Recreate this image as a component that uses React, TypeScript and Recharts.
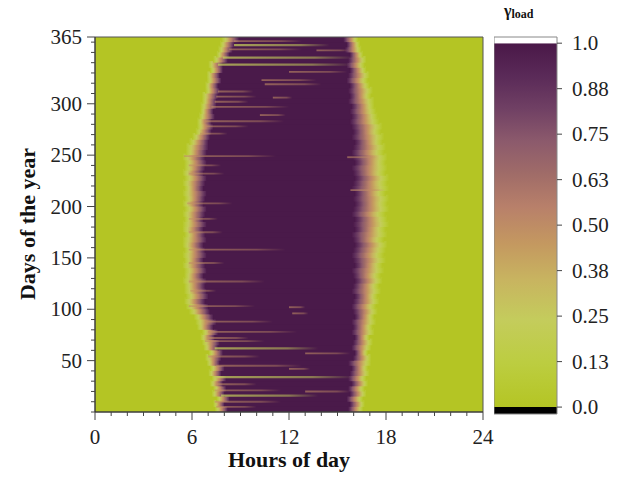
import React from 'react';
import { ComposedChart, XAxis, YAxis, ReferenceArea } from 'recharts';

// ---------- data ----------
const BLOCK_DAYS = 5; // each row of the heat map covers 5 days

// hour at which the morning rise begins (value leaves 0)
const riseStart = [
  7.4, 7.3, 7.5, 7.2, 7.3, 7.1, 7.2, 7.0, 7.1, 6.9,
  6.8, 7.0, 6.7, 6.6, 6.5, 6.6, 6.3, 6.2, 6.1, 5.8,
  5.6, 5.5, 5.6, 5.5, 5.5, 5.4, 5.5, 5.5, 5.4, 5.5,
  5.4, 5.5, 5.4, 5.4, 5.5, 5.4, 5.4, 5.5, 5.4, 5.5,
  5.4, 5.5, 5.4, 5.5, 5.4, 5.5, 5.4, 5.5, 5.5, 5.4,
  5.6, 5.6, 5.8, 6.0, 6.2, 6.3, 6.3, 6.4, 6.5, 6.5,
  6.6, 6.6, 6.8, 6.8, 6.9, 6.9, 7.1, 7.0, 7.3, 7.5,
  7.6, 7.7, 7.8,
];
// hour at which the value reaches 1
const riseEnd = [
  8.2, 8.0, 8.3, 8.0, 8.1, 7.9, 8.1, 7.8, 8.0, 7.7,
  7.8, 7.9, 7.6, 7.7, 7.4, 7.6, 7.3, 7.5, 7.3, 7.1,
  7.0, 6.8, 7.0, 6.9, 6.8, 6.9, 6.7, 6.9, 6.8, 6.7,
  6.9, 6.8, 6.7, 6.9, 6.8, 6.7, 6.9, 6.7, 6.8, 6.9,
  6.7, 6.8, 6.9, 6.7, 6.8, 6.9, 6.7, 6.8, 6.9, 6.8,
  6.9, 7.0, 7.0, 7.1, 7.2, 7.3, 7.2, 7.4, 7.3, 7.5,
  7.5, 7.6, 7.7, 7.6, 7.8, 7.7, 7.9, 7.9, 8.2, 8.3,
  8.5, 8.6, 8.9,
];
// hour at which the evening decline begins
const setStart = [
  15.7, 15.8, 15.6, 15.8, 15.7, 15.9, 15.7, 15.8, 15.9, 15.7,
  16.0, 16.1, 15.9, 16.0, 16.1, 15.9, 16.0, 15.9, 16.1, 16.0,
  15.9, 16.0, 16.1, 15.9, 16.0, 16.1, 16.0, 15.9, 16.1, 16.0,
  15.9, 16.0, 16.1, 16.0, 15.9, 16.1, 16.0, 16.1, 15.9, 16.0,
  16.1, 16.0, 16.1, 15.9, 16.0, 16.1, 16.0, 15.9, 16.1, 16.0,
  15.9, 16.0, 16.1, 15.9, 16.0, 15.9, 15.8, 15.9, 15.8, 15.9,
  15.7, 15.8, 15.7, 15.8, 15.6, 15.7, 15.8, 15.6, 15.7, 15.8,
  15.5, 15.6, 15.4,
];
// hour at which the value is back to 0
const setEnd = [
  16.6, 16.7, 16.6, 16.8, 16.7, 16.9, 16.8, 17.0, 16.9, 17.1,
  17.1, 16.9, 17.1, 17.2, 17.0, 17.3, 17.2, 17.4, 17.3, 17.5,
  17.4, 17.6, 17.5, 17.7, 17.6, 17.8, 17.7, 17.9, 17.8, 18.0,
  17.9, 18.0, 18.1, 17.9, 18.1, 18.0, 18.2, 18.1, 18.0, 18.2,
  18.1, 18.2, 18.0, 18.2, 18.1, 18.2, 18.0, 18.1, 18.0, 18.1,
  17.9, 18.0, 17.8, 17.9, 17.7, 17.8, 17.6, 17.5, 17.4, 17.3,
  17.3, 17.1, 17.2, 17.0, 16.9, 17.0, 16.8, 16.7, 16.8, 16.6,
  16.5, 16.4, 16.3,
];

// single-day dips inside the high-value band
const streaks = [
  { day: 361, from: 8.6, to: 12.8, kind: 'tan' },
  { day: 357, from: 8.6, to: 14.5, kind: 'light' },
  { day: 353, from: 8.3, to: 12.8, kind: 'tan' },
  { day: 352, from: 13.7, to: 15.8, kind: 'tan' },
  { day: 345, from: 7.9, to: 16.0, kind: 'light' },
  { day: 338, from: 7.6, to: 15.9, kind: 'light' },
  { day: 331, from: 12.0, to: 15.6, kind: 'tan' },
  { day: 323, from: 10.3, to: 13.7, kind: 'tan' },
  { day: 319, from: 10.5, to: 14.0, kind: 'tan' },
  { day: 312, from: 7.6, to: 9.8, kind: 'tan' },
  { day: 307, from: 7.5, to: 10.0, kind: 'tan' },
  { day: 306, from: 11.0, to: 12.2, kind: 'tan' },
  { day: 302, from: 7.4, to: 9.5, kind: 'tan' },
  { day: 297, from: 7.2, to: 12.0, kind: 'tan' },
  { day: 289, from: 10.2, to: 11.8, kind: 'tan' },
  { day: 283, from: 6.8, to: 11.7, kind: 'tan' },
  { day: 278, from: 6.8, to: 9.5, kind: 'tan' },
  { day: 271, from: 6.5, to: 8.2, kind: 'tan' },
  { day: 249, from: 5.5, to: 11.2, kind: 'tan' },
  { day: 248, from: 15.6, to: 17.5, kind: 'tan' },
  { day: 240, from: 5.8, to: 7.8, kind: 'tan' },
  { day: 232, from: 5.8, to: 8.0, kind: 'tan' },
  { day: 216, from: 15.8, to: 18.0, kind: 'tan' },
  { day: 203, from: 5.7, to: 8.5, kind: 'tan' },
  { day: 188, from: 5.8, to: 7.6, kind: 'tan' },
  { day: 175, from: 5.8, to: 7.9, kind: 'tan' },
  { day: 158, from: 5.8, to: 11.8, kind: 'tan' },
  { day: 145, from: 5.8, to: 8.0, kind: 'tan' },
  { day: 127, from: 5.8, to: 10.5, kind: 'tan' },
  { day: 118, from: 5.9, to: 7.5, kind: 'tan' },
  { day: 103, from: 5.8, to: 9.9, kind: 'tan' },
  { day: 102, from: 12.0, to: 13.0, kind: 'tan' },
  { day: 96, from: 12.2, to: 13.2, kind: 'tan' },
  { day: 88, from: 6.8, to: 11.0, kind: 'tan' },
  { day: 78, from: 7.0, to: 12.5, kind: 'tan' },
  { day: 72, from: 7.0, to: 9.5, kind: 'tan' },
  { day: 69, from: 6.8, to: 10.5, kind: 'tan' },
  { day: 62, from: 7.4, to: 13.8, kind: 'light' },
  { day: 57, from: 13.0, to: 15.8, kind: 'tan' },
  { day: 54, from: 7.0, to: 10.2, kind: 'tan' },
  { day: 45, from: 7.5, to: 12.8, kind: 'tan' },
  { day: 42, from: 12.0, to: 13.3, kind: 'tan' },
  { day: 34, from: 7.5, to: 16.0, kind: 'light' },
  { day: 27, from: 7.5, to: 10.0, kind: 'tan' },
  { day: 21, from: 7.4, to: 11.5, kind: 'tan' },
  { day: 20, from: 13.0, to: 15.8, kind: 'tan' },
  { day: 16, from: 7.8, to: 13.8, kind: 'light' },
  { day: 10, from: 7.4, to: 11.5, kind: 'tan' },
  { day: 5, from: 7.5, to: 10.0, kind: 'tan' },
];

// axes
const xTicks = [0, 1, 2, 3, 4, 5, 6, 7, 8, 9, 10, 11, 12, 13, 14, 15, 16, 17, 18, 19, 20, 21, 22, 23, 24];
const xMajor = [0, 6, 12, 18, 24];
const yTicks = [0, 10, 20, 30, 40, 50, 60, 70, 80, 90, 100, 110, 120, 130, 140, 150, 160, 170, 180, 190, 200,
  210, 220, 230, 240, 250, 260, 270, 280, 290, 300, 310, 320, 330, 340, 350, 360, 365];
const yMajor = [50, 100, 150, 200, 250, 300, 365];

// colour bar
const cbTicks = [0, 0.125, 0.25, 0.375, 0.5, 0.625, 0.75, 0.875, 1];
const cbLabels = ['0.0', '0.13', '0.25', '0.38', '0.50', '0.63', '0.75', '0.88', '1.0'];
const cmapStops = [0, 0.12, 0.24, 0.35, 0.45, 0.55, 0.64, 0.73, 0.82, 0.91, 1];
const cmapColors = ['#b4c524', '#bccd40', '#c4cc5c', '#c8b460', '#c49860', '#b8806a', '#a06c68', '#8c5a6c', '#704064', '#5a2a58', '#4a1848'];

// ---------- style ----------
const FONT = "'Liberation Serif','Times New Roman',serif";
const BG = '#b4c524';
const PURPLE = '#4a1a4a';
const streakColor: Record<string, string> = { tan: '#c28e64', light: '#c4cc5a' };
const streakOpacity: Record<string, number> = { tan: 0.6, light: 0.75 };

function XTick(props: any) {
  const { x, y, payload } = props;
  const v = payload.value;
  const major = xMajor.includes(v);
  return (
    <g>
      <line x1={x} y1={y} x2={x} y2={y + (major ? 8 : 4)} stroke="#444" strokeWidth={1} />
      {major && (
        <text x={x} y={y + 32} textAnchor="middle" fontFamily={FONT} fontSize={21} fill="#222">
          {v}
        </text>
      )}
    </g>
  );
}

function YTick(props: any) {
  const { x, y, payload } = props;
  const v = payload.value;
  const major = yMajor.includes(v);
  return (
    <g>
      <line x1={x} y1={y} x2={x - (major ? 8 : 4)} y2={y} stroke="#444" strokeWidth={1} />
      {major && (
        <text x={x - 13} y={y + 7} textAnchor="end" fontFamily={FONT} fontSize={21} fill="#222">
          {v}
        </text>
      )}
    </g>
  );
}

function CbTick(props: any) {
  const { x, y, payload } = props;
  const i = cbTicks.indexOf(payload.value);
  return (
    <g>
      <line x1={x} y1={y} x2={x + 5} y2={y} stroke="#444" strokeWidth={1} />
      <text x={x + 15} y={y + 7} textAnchor="start" fontFamily={FONT} fontSize={21} fill="#222">
        {cbLabels[i]}
      </text>
    </g>
  );
}

function Defs() {
  const stops = cmapStops.map((s, i) => <stop key={i} offset={s} stopColor={cmapColors[i]} />);
  return (
    <svg width={0} height={0} style={{ position: 'absolute' }}>
      <defs>
        <linearGradient id="rise" x1="0" y1="0" x2="1" y2="0">{stops}</linearGradient>
        <linearGradient id="set" x1="1" y1="0" x2="0" y2="0">{stops}</linearGradient>
        <linearGradient id="cbar" x1="0" y1="1" x2="0" y2="0">{stops}</linearGradient>
        {Object.keys(streakColor).map((k) => (
          <linearGradient key={k} id={'st-' + k} x1="0" y1="0" x2="1" y2="0">
            <stop offset={0} stopColor={streakColor[k]} stopOpacity={streakOpacity[k]} />
            <stop offset={0.7} stopColor={streakColor[k]} stopOpacity={streakOpacity[k] * 0.7} />
            <stop offset={1} stopColor={streakColor[k]} stopOpacity={0} />
          </linearGradient>
        ))}
      </defs>
    </svg>
  );
}

export default function App() {
  const rows = riseStart.map((a, i) => {
    const y1 = i * BLOCK_DAYS;
    const y2 = Math.min(365, y1 + BLOCK_DAYS + 1.5);
    return [
      <ReferenceArea key={'r' + i} x1={a} x2={riseEnd[i] + 0.05} y1={y1} y2={y2} fill="url(#rise)" fillOpacity={1} stroke="none" />,
      <ReferenceArea key={'c' + i} x1={riseEnd[i]} x2={setStart[i]} y1={y1} y2={y2} fill={PURPLE} fillOpacity={1} stroke="none" />,
      <ReferenceArea key={'s' + i} x1={setStart[i] - 0.05} x2={setEnd[i]} y1={y1} y2={y2} fill="url(#set)" fillOpacity={1} stroke="none" />,
    ];
  });
  const lines = streaks.map((s, i) => {
    const half = s.kind === 'light' ? 1.1 : 0.9;
    return (
      <ReferenceArea key={'st' + i} x1={s.from} x2={s.to} y1={s.day - half} y2={s.day + half}
        fill={'url(#st-' + s.kind + ')'} fillOpacity={1} stroke="none" />
    );
  });

  return (
    <div style={{ position: 'absolute', left: 0, top: 0, width: 624, height: 478, background: '#fff' }}>
      <Defs />
      <div style={{ position: 'absolute', left: 0, top: 0 }}>
        <ComposedChart width={624} height={478} margin={{ top: 37, right: 141, bottom: 36, left: 35 }}>
          <XAxis type="number" dataKey="x" domain={[0, 24]} ticks={xTicks} interval={0} tick={<XTick />}
            tickLine={false} tickSize={0} tickMargin={0} height={30} axisLine={{ stroke: '#333' }} allowDataOverflow />
          <YAxis type="number" dataKey="y" domain={[0, 365]} ticks={yTicks} interval={0} tick={<YTick />}
            tickLine={false} tickSize={0} tickMargin={0} width={60} axisLine={{ stroke: '#333' }} allowDataOverflow />
          <ReferenceArea x1={0} x2={24} y1={0} y2={365} fill={BG} fillOpacity={1} stroke="none" />
          {rows}
          {lines}
          <ReferenceArea x1={0} x2={24} y1={0} y2={365} fill="none" fillOpacity={0} stroke="#555" strokeWidth={1} />
        </ComposedChart>
      </div>
      <div style={{ position: 'absolute', left: 494, top: 0 }}>
        <ComposedChart width={130} height={478} margin={{ top: 37, right: 0, bottom: 64, left: 0 }}>
          <XAxis type="number" dataKey="x" domain={[0, 1]} hide allowDataOverflow />
          <YAxis type="number" dataKey="y" orientation="right" domain={[-0.019, 1.017]} ticks={cbTicks} interval={0}
            tick={<CbTick />} tickLine={false} tickSize={0} tickMargin={0} width={67} axisLine={false} allowDataOverflow />
          <ReferenceArea x1={0} x2={1} y1={0} y2={1} fill="url(#cbar)" fillOpacity={1} stroke="none" />
          <ReferenceArea x1={0} x2={1} y1={1} y2={1.017} fill="#ffffff" fillOpacity={1} stroke="none" />
          <ReferenceArea x1={0} x2={1} y1={-0.019} y2={0} fill="#000000" fillOpacity={1} stroke="none" />
          <ReferenceArea x1={0} x2={1} y1={-0.019} y2={1.017} fill="none" fillOpacity={0} stroke="#888" strokeWidth={1} />
        </ComposedChart>
      </div>
      <svg width={624} height={478} style={{ position: 'absolute', left: 0, top: 0, pointerEvents: 'none' }}>
        <text x={289} y={467} textAnchor="middle" fontFamily={FONT} fontWeight="bold" fontSize={22} fill="#111">
          Hours of day
        </text>
        <text transform="translate(35,224) rotate(-90)" textAnchor="middle" fontFamily={FONT} fontWeight="bold" fontSize={22} fill="#111">
          Days of the year
        </text>
        <text x={504} y={16} fontFamily={FONT} fontWeight="bold" fontSize={16} fill="#111">
          γ<tspan fontSize={12} dy={2}>load</tspan>
        </text>
      </svg>
    </div>
  );
}
